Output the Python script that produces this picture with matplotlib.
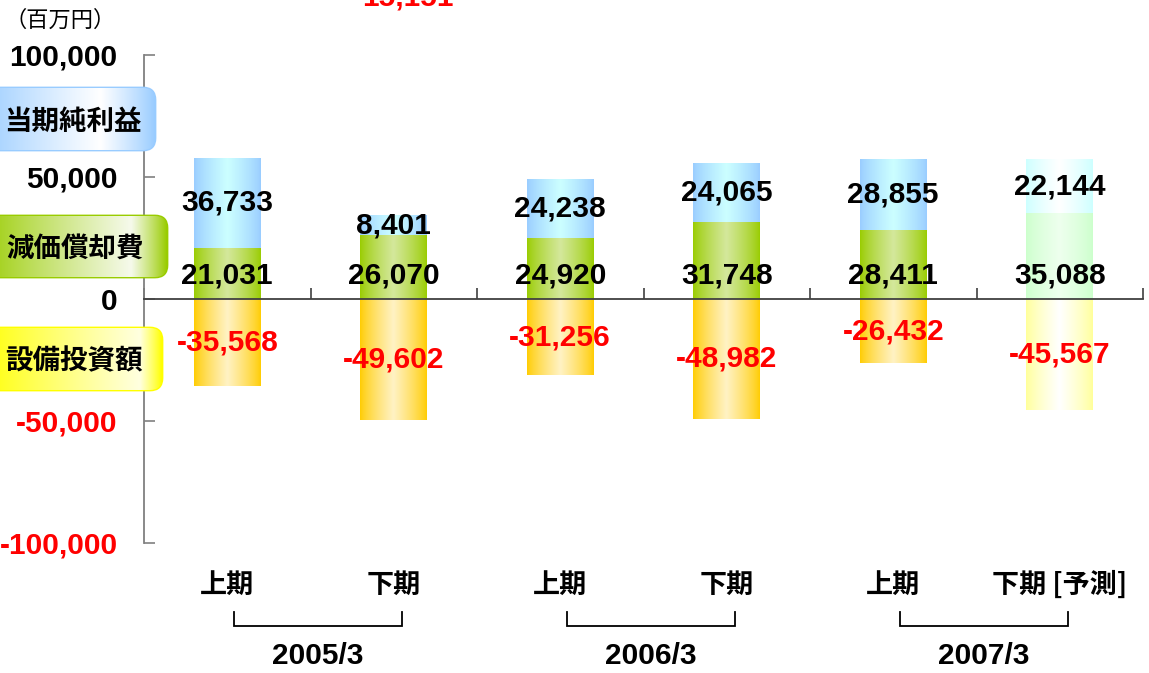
import numpy as np
import matplotlib
matplotlib.use('Agg')
import matplotlib.pyplot as plt
from matplotlib.patches import FancyBboxPatch
from matplotlib import font_manager
from matplotlib.colors import to_rgb
from matplotlib.ticker import FuncFormatter
import matplotlib.transforms as mtransforms

# ---------------- data ----------------
periods = ['上期', '下期', '上期', '下期', '上期', '下期 [予測]']
fiscal_years = ['2005/3', '2006/3', '2007/3']
net_income = [36733, 8401, 24238, 24065, 28855, 22144]
depreciation = [21031, 26070, 24920, 31748, 28411, 35088]
capex = [-35568, -49602, -31256, -48982, -26432, -45567]
is_forecast = [False, False, False, False, False, True]
y_ticks = [100000, 50000, 0, -50000, -100000]
series_names = ['当期純利益', '減価償却費', '設備投資額']
unit_label = '（百万円）'
stray_label = '15,151'

# ---------------- fonts ----------------
plt.rcParams['font.family'] = ['Liberation Sans', 'Noto Sans CJK JP', 'DejaVu Sans']
CJK = ['Noto Sans CJK JP', 'DejaVu Sans']


def has_font(name):
    try:
        font_manager.findfont(font_manager.FontProperties(family=name),
                              fallback_to_default=False)
        return True
    except Exception:
        return False


if has_font('Liberation Sans Narrow'):
    YEAR_FONT, YEAR_SIZE = ['Liberation Sans Narrow', 'Liberation Sans'], 26
else:
    YEAR_FONT, YEAR_SIZE = ['Liberation Sans'], 21.5

NUM_SIZE = 21.5
RED = '#FF0000'

W, H = 1149, 673
fig = plt.figure(figsize=(W / 100, H / 100), dpi=100)
ax = fig.add_axes([144 / W, 1 - 543 / H, (1143 - 144) / W, (543 - 55) / H])


def grad_colors(edge, center, peak=0.5, power=0.8, n=256):
    t = np.linspace(0, 1, n)
    f = np.where(t < peak, t / peak, (1 - t) / (1 - peak))
    f = np.clip(f, 0, 1) ** power
    e = np.array(to_rgb(edge))
    c = np.array(to_rgb(center))
    return (e + (c - e) * f[:, None])[None, :, :]


def gradient_bar(axis, patch, edge, center):
    bb = patch.get_bbox()
    x0, x1 = bb.x0, bb.x1
    y0, y1 = min(bb.y0, bb.y1), max(bb.y0, bb.y1)
    im = axis.imshow(grad_colors(edge, center), extent=[x0, x1, y0, y1],
                     aspect='auto', interpolation='bilinear',
                     zorder=patch.get_zorder() + 0.1)
    im.set_clip_path(patch)


x = np.arange(len(periods))
bw = 0.4

styles = {
    'net': (('#99CCFF', '#CCFFFF'), ('#CCFFFF', '#FFFFFF')),
    'dep': (('#99CC00', '#D4E89C'), ('#CCFFCC', '#EEFFEE')),
    'cap': (('#FFCC00', '#FFF2C4'), ('#FFFF99', '#FFFFFF')),
}

dep_bars = ax.bar(x, depreciation, width=bw, bottom=0, color='#99CC00', lw=0, zorder=2)
net_bars = ax.bar(x, net_income, width=bw, bottom=depreciation, color='#99CCFF', lw=0, zorder=2)
cap_bars = ax.bar(x, capex, width=bw, bottom=0, color='#FFCC00', lw=0, zorder=2)

for key, bars in (('dep', dep_bars), ('net', net_bars), ('cap', cap_bars)):
    for b, fc in zip(bars, is_forecast):
        edge, center = styles[key][1] if fc else styles[key][0]
        b.set_color(edge)
        gradient_bar(ax, b, edge, center)

ax.set_xlim(-0.5, len(periods) - 0.5)
ax.set_ylim(-100000, 100000)

# value labels
for i in range(len(periods)):
    ax.text(x[i], depreciation[i] + net_income[i] / 2, f'{net_income[i]:,}',
            ha='center', va='center', fontsize=NUM_SIZE, fontweight='bold',
            color='black', zorder=5)
    ax.annotate(f'{depreciation[i]:,}', xy=(x[i], 0), xytext=(0, 17),
                textcoords='offset points', ha='center', va='center',
                fontsize=NUM_SIZE, fontweight='bold', color='black', zorder=5)
    ax.text(x[i], capex[i] / 2, f'{capex[i]:,}', ha='center', va='center',
            fontsize=NUM_SIZE, fontweight='bold', color=RED, zorder=5)

# spines and ticks
for s in ('top', 'right'):
    ax.spines[s].set_visible(False)
ax.spines['left'].set_color('#808080')
ax.spines['left'].set_linewidth(1.3)
ax.spines['bottom'].set_position(('data', 0))
ax.spines['bottom'].set_color('#404040')
ax.spines['bottom'].set_linewidth(1.3)

ax.set_yticks(y_ticks)
ax.yaxis.set_major_formatter(FuncFormatter(lambda v, p: f'{v:,.0f}'))
ax.tick_params(axis='y', direction='in', length=8, color='#808080', width=1.2,
               pad=19, labelsize=NUM_SIZE)
for lbl, v in zip(ax.get_yticklabels(), y_ticks):
    lbl.set_fontweight('bold')
    lbl.set_color(RED if v < 0 else 'black')

ax.set_xticks(np.arange(-0.5, len(periods), 1.0))
ax.tick_params(axis='x', direction='in', length=8, color='#404040', width=1.2,
               labelbottom=False)

trans = mtransforms.blended_transform_factory(ax.transData, ax.transAxes)
for i, p in enumerate(periods):
    ax.text(x[i], -0.086, p, transform=trans, ha='center', va='center',
            fontsize=19.5, fontweight='bold', family=CJK, clip_on=False)

for j, yr in enumerate(fiscal_years):
    xa, xb = x[2 * j] + 0.04, x[2 * j + 1] + 0.05
    ax.plot([xa, xa, xb, xb], [-0.141, -0.170, -0.170, -0.141], transform=trans,
            color='black', lw=1.3, clip_on=False, solid_joinstyle='miter')
    ax.text((xa + xb) / 2, -0.232, yr, transform=trans, ha='center', va='center',
            fontsize=YEAR_SIZE, fontweight='bold', family=YEAR_FONT, clip_on=False)

# ---------------- overlay: legend boxes & notes ----------------
ov = fig.add_axes([0, 0, 1, 1], zorder=10)
ov.set_xlim(0, W)
ov.set_ylim(H, 0)
ov.axis('off')
ov.patch.set_alpha(0)

boxes = [
    (series_names[0], -20, 155, 88, 150, '#99CCFF', '#FFFFFF', 0.69, 122, 142),
    (series_names[1], -20, 167, 216, 277, '#99CC00', '#F6FAEC', 0.81, 249, 144),
    (series_names[2], -20, 162, 328, 390, '#FFFF00', '#FFFFE0', 0.88, 361, 143),
]
for name, bx0, bx1, by0, by1, edge, center, peak, ty, tx in boxes:
    patch = FancyBboxPatch((bx0, by0), bx1 - bx0, by1 - by0,
                           boxstyle='round,pad=0,rounding_size=12',
                           facecolor=edge, edgecolor=edge, lw=2)
    ov.add_patch(patch)
    im = ov.imshow(grad_colors(edge, center, peak=peak, power=0.9),
                   extent=[bx0, bx1, by1, by0], aspect='auto',
                   interpolation='bilinear', zorder=patch.get_zorder() + 0.1)
    im.set_clip_path(patch)
    ov.text(tx, ty, name, ha='right', va='center', fontsize=19.8,
            fontweight='bold', family=CJK, zorder=5)
ov.set_xlim(0, W)
ov.set_ylim(H, 0)

fig.text(60 / W, 1 - 20 / H, unit_label, ha='center', va='center',
         fontsize=16, family=CJK)
fig.text(408 / W, 1 - 6 / H, stray_label, ha='center', va='baseline',
         fontsize=NUM_SIZE, fontweight='bold', color=RED)

fig.savefig('out.png', dpi=100)
